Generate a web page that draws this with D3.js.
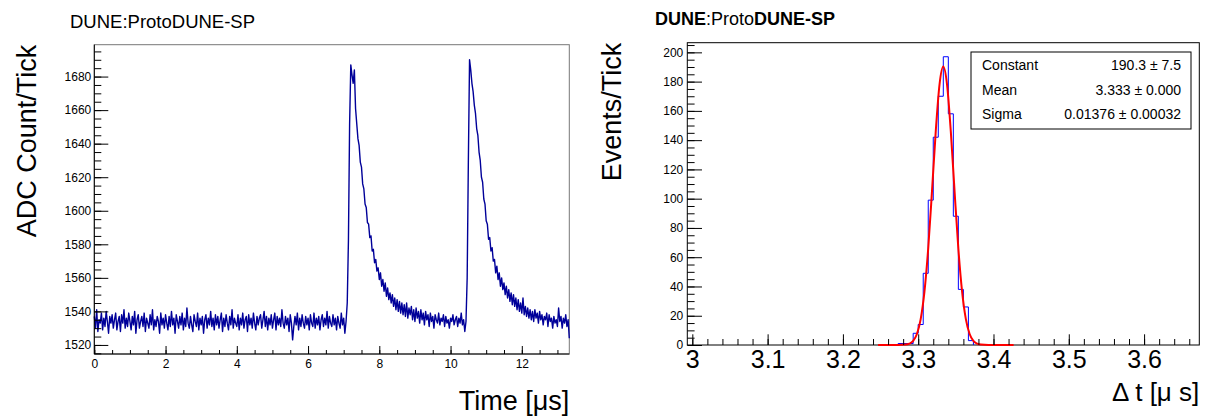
<!DOCTYPE html>
<html>
<head>
<meta charset="utf-8">
<script src="https://cdn.jsdelivr.net/npm/d3@7"></script>
<style>
  body { margin: 0; background: #fff; }
  svg text { font-family: "Liberation Sans", Arial, Helvetica, sans-serif; fill: #000; }
</style>
</head>
<body>
<div id="visArea"></div>
<script>

// ---- left panel: waveform, one value every 1/30 us ----
var sampleStepUs = 1 / 30;

var baselineADC = [
  1537,1530,1541,1528,1535,1533,1539,1529,1536,1531,1540,1534,1527,1537,1533,1538,1530,1535,1539,1529,
  1534,1537,1528,1538,1533,1541,1530,1536,1531,1539,1534,1529,1537,1532,1540,1527,1535,1538,1530,1534,
  1537,1531,1539,1528,1536,1533,1530,1538,1532,1541,1529,1535,1531,1537,1534,1527,1539,1532,1536,1530,
  1538,1533,1529,1537,1531,1540,1532,1536,1527,1538,1534,1530,1537,1532,1539,1529,1536,1531,1542,1533,
  1530,1537,1532,1528,1538,1534,1531,1539,1529,1536,1532,1537,1527,1535,1538,1530,1536,1532,1540,1531,
  1536,1529,1538,1532,1537,1530,1535,1539,1528,1536,1531,1538,1533,1529,1537,1532,1541,1530,1536,1533,
  1531,1538,1529,1536,1532,1539,1530,1535,1537,1528,1538,1532,1536,1530,1539,1533,1529,1537,1532,1536,
  1538,1530,1535,1540,1531,1537,1529,1536,1532,1538,1530,1535,1539,1529,1537,1532,1536,1531,1541,1533,
  1530,1537,1532,1536,1528,1538,1533,1523,1531,1537,1532,1539,1529,1536,1531,1538,1533,1530,1537,1532,
  1536,1529,1538,1533,1531,1539,1530,1536,1532,1537,1529,1535,1538,1531,1536,1532,1540,1530,1537,1533,
  1531,1538,1532,1536,1529,1537,1533,1530,1539,1532,1536,1527,1534
];

var pulse1ADC = [
  1545,1582,1652,1687,1681,1676,1684,
  1661,1652,1643,1639,1629,1626,1616,1613,1604,1602,
  1593,1592,1584,1585,1576,1577,1569,1571,1564,1566,
  1559,1563,1555,1559,1552,1557,1549,1554,1547,1551,
  1545,1550,1543,1548,1541,1547,1540,1546,1539,1545,
  1538,1544,1537,1545,1536,1542,1538,1543,1535,1541,
  1534,1542,1536,1540,1533,1541,1535,1539,1532,1540,
  1535,1538,1531,1539,1534,1537,1530,1538,1535,1533,
  1539,1532,1536,1534,1538,1531,1537,1533,1535,1530,
  1536,1534,1538,1532,1535,1537,1531,1536,1533,1539,
  1532,1535,1528,1534
];

var pulse2ADC = [
  1560,1630,1690,1684,1676,1671,
  1663,1658,1649,1645,1635,1630,1620,1617,1607,1604,
  1594,1592,1583,1584,1576,1578,1570,1571,1563,1567,
  1559,1563,1555,1560,1553,1557,1550,1555,1548,1553,
  1546,1551,1544,1550,1543,1548,1541,1547,1540,1545,
  1539,1548,1538,1543,1537,1542,1536,1541,1535,1540,
  1534,1541,1536,1539,1533,1540,1535,1538,1532,1537,
  1535,1539,1531,1538,1534,1536,1530,1537,1533,1535,
  1531,1542,1534,1537,1530,1536,1533,1538,1531,1535,
  1524
];

var timeTicks = [0, 2, 4, 6, 8, 10, 12];
var adcTicks = [1520, 1540, 1560, 1580, 1600, 1620, 1640, 1660, 1680];

// ---- right panel: delta t histogram, bins of one tick (1/150 us) ----
var tickUs = 1 / 150;
var histFirstTick = 449, histLastTick = 551;
var binTicks  = [491, 492, 493, 494, 495, 496, 497, 498, 499, 500, 501, 502, 503, 504, 505];
var binCounts = [  1,   1,   1,   8,  14,  49,  99, 142, 170, 197, 158,  88,  38,  26,   3];

var fitX = [3.2467, 3.2733, 3.2833, 3.2883, 3.2933, 3.2983, 3.3033, 3.3083, 3.3133, 3.3183, 3.3233, 3.3283, 3.3333,
            3.3383, 3.3433, 3.3483, 3.3533, 3.3583, 3.3633, 3.3683, 3.3733, 3.3783, 3.3833, 3.3933, 3.4267];
var fitY = [0, 0.01, 0.26, 0.9, 2.8, 7.5, 17.7, 36.5, 66, 105, 146, 178, 190.3,
            178, 146, 105, 66, 36.5, 17.7, 7.5, 2.8, 0.9, 0.26, 0.01, 0];

var dtTicks = [3.0, 3.1, 3.2, 3.3, 3.4, 3.5, 3.6];
var countTicks = [0, 20, 40, 60, 80, 100, 120, 140, 160, 180, 200];

var statNames  = ['Constant', 'Mean', 'Sigma'];
var statValues = ['190.3 \u00b1 7.5', '3.333 \u00b1 0.000', '0.01376 \u00b1 0.00032'];


var svg = d3.select('#visArea').append('svg')
  .attr('width', 1207).attr('height', 417);

drawWaveform();
drawHistogram();


function minorTicks(lo, hi, step){
  var out = [];
  for (var v = Math.ceil(lo / step - 1e-6) * step; v <= hi + 1e-9; v += step) out.push(+v.toFixed(4));
  return out;
}

function styleAxis(g, fontSize){
  g.select('.domain').remove();
  g.selectAll('line').attr('stroke', '#000');
  g.selectAll('text').style('font-size', fontSize + 'px').attr('fill', '#000');
}


function drawWaveform(){
  var left = 94.3, right = 569.3, top = 44.7, bottom = 354;
  var adc = baselineADC.concat(pulse1ADC, pulse2ADC);

  var x = d3.scaleLinear().domain([0, 13.3333]).range([left, right]);
  var y = d3.scaleLinear().domain([1514.6, 1699]).range([bottom, top]);

  svg.append('text').attr('x', 70).attr('y', 28)
    .style('font-size', '18.5px').text('DUNE:ProtoDUNE-SP');

  // frame (top/right lighter as in the original)
  svg.append('rect').attr('x', left).attr('y', top)
    .attr('width', right - left).attr('height', bottom - top)
    .attr('fill', 'none').attr('stroke', '#777').attr('stroke-width', 1);

  var line = d3.line()
    .x(function(d, i){ return x(i * sampleStepUs); })
    .y(function(d){ return y(d); });

  svg.append('path').datum(adc)
    .attr('d', line)
    .attr('fill', 'none')
    .attr('stroke', '#000099')
    .attr('stroke-width', 1.4)
    .attr('stroke-linejoin', 'round');

  // minor ticks
  svg.append('g').attr('transform', 'translate(0,' + bottom + ')')
    .call(d3.axisBottom(x).tickValues(minorTicks(0, 13.33, 0.5)).tickSize(-4).tickFormat(''))
    .call(styleAxis, 11);
  svg.append('g').attr('transform', 'translate(' + left + ',0)')
    .call(d3.axisLeft(y).tickValues(minorTicks(1515, 1699, 5)).tickSize(-7).tickFormat(''))
    .call(styleAxis, 11);

  // major ticks
  svg.append('g').attr('transform', 'translate(0,' + bottom + ')')
    .call(d3.axisBottom(x).tickValues(timeTicks).tickSize(-8).tickPadding(5).tickFormat(d3.format('d')))
    .call(styleAxis, 12);
  svg.append('g').attr('transform', 'translate(' + left + ',0)')
    .call(d3.axisLeft(y).tickValues(adcTicks).tickSize(-14).tickPadding(3).tickFormat(d3.format('d')))
    .call(styleAxis, 12);

  svg.append('line').attr('x1', left).attr('x2', right).attr('y1', bottom).attr('y2', bottom).attr('stroke', '#000');
  svg.append('line').attr('x1', left).attr('x2', left).attr('y1', top).attr('y2', bottom).attr('stroke', '#000');

  svg.append('text').attr('x', right).attr('y', 410)
    .style('font-size', '27px').style('text-anchor', 'end').text('Time [\u03bcs]');
  svg.append('text').attr('transform', 'translate(36,' + top + ') rotate(-90)')
    .style('font-size', '27px').style('text-anchor', 'end').text('ADC Count/Tick');
}


function drawHistogram(){
  var left = 687.3, right = 1199.3, top = 42.7, bottom = 345;

  var x = d3.scaleLinear().domain([histFirstTick * tickUs, histLastTick * tickUs]).range([left, right]);
  var y = d3.scaleLinear().domain([0, 206.6]).range([bottom, top]);

  var t = svg.append('text').attr('x', 655).attr('y', 25).style('font-size', '18px');
  t.append('tspan').style('font-weight', 'bold').text('DUNE');
  t.append('tspan').text(':Proto');
  t.append('tspan').style('font-weight', 'bold').text('DUNE-SP');

  svg.append('rect').attr('x', left).attr('y', top)
    .attr('width', right - left).attr('height', bottom - top)
    .attr('fill', 'none').attr('stroke', '#000').attr('stroke-width', 1);

  // step outline of the histogram
  var pts = [[binTicks[0], 0]];
  binTicks.forEach(function(b, i){ pts.push([b, binCounts[i]]); });
  pts.push([binTicks[binTicks.length - 1] + 1, 0]);
  var step = d3.line()
    .x(function(d){ return x(d[0] * tickUs); })
    .y(function(d){ return y(d[1]); })
    .curve(d3.curveStepAfter);
  svg.append('path').datum(pts)
    .attr('d', step).attr('fill', 'none')
    .attr('stroke', '#0000ff').attr('stroke-width', 1);

  // gaussian fit curve
  var fit = d3.line()
    .x(function(d, i){ return x(fitX[i]); })
    .y(function(d){ return y(d); })
    .curve(d3.curveMonotoneX);
  svg.append('path').datum(fitY)
    .attr('d', fit).attr('fill', 'none')
    .attr('stroke', '#ff0000').attr('stroke-width', 2);

  // minor ticks
  svg.append('g').attr('transform', 'translate(0,' + bottom + ')')
    .call(d3.axisBottom(x).tickValues(minorTicks(3.0, 3.672, 0.02)).tickSize(-6).tickFormat(''))
    .call(styleAxis, 11);
  svg.append('g').attr('transform', 'translate(' + left + ',0)')
    .call(d3.axisLeft(y).tickValues(minorTicks(5, 206, 5)).tickSize(-7.3).tickFormat(''))
    .call(styleAxis, 11);

  // major ticks
  svg.append('g').attr('transform', 'translate(0,' + bottom + ')')
    .call(d3.axisBottom(x).tickValues(dtTicks).tickSize(-10.7).tickPadding(5)
      .tickFormat(function(d){ return d == 3 ? '3' : d.toFixed(1); }))
    .call(styleAxis, 25);
  svg.append('g').attr('transform', 'translate(' + left + ',0)')
    .call(d3.axisLeft(y).tickValues(countTicks).tickSize(-14.7).tickPadding(4).tickFormat(d3.format('d')))
    .call(styleAxis, 12);

  svg.append('text').attr('x', right).attr('y', 401)
    .style('font-size', '26px').style('text-anchor', 'end').text('\u0394 t [\u03bc s]');
  svg.append('text').attr('transform', 'translate(621,' + top + ') rotate(-90)')
    .style('font-size', '27px').style('text-anchor', 'end').text('Events/Tick');

  // stats box
  var bx = 971, by = 52, bw = 220, bh = 77;
  svg.append('rect').attr('x', bx).attr('y', by).attr('width', bw).attr('height', bh)
    .attr('fill', '#fff').attr('stroke', '#000').attr('stroke-width', 1);
  var rows = svg.append('g').attr('class', 'stats');
  rows.selectAll('text.name').data(statNames).enter().append('text')
    .attr('class', 'name')
    .attr('x', bx + 11)
    .attr('y', function(d, i){ return by + 18 + i * 24.5; })
    .style('font-size', '14px').text(function(d){ return d; });
  rows.selectAll('text.val').data(statValues).enter().append('text')
    .attr('class', 'val')
    .attr('x', bx + bw - 10)
    .attr('y', function(d, i){ return by + 18 + i * 24.5; })
    .style('font-size', '14px').style('text-anchor', 'end').text(function(d){ return d; });
}

</script>
</body>
</html>
